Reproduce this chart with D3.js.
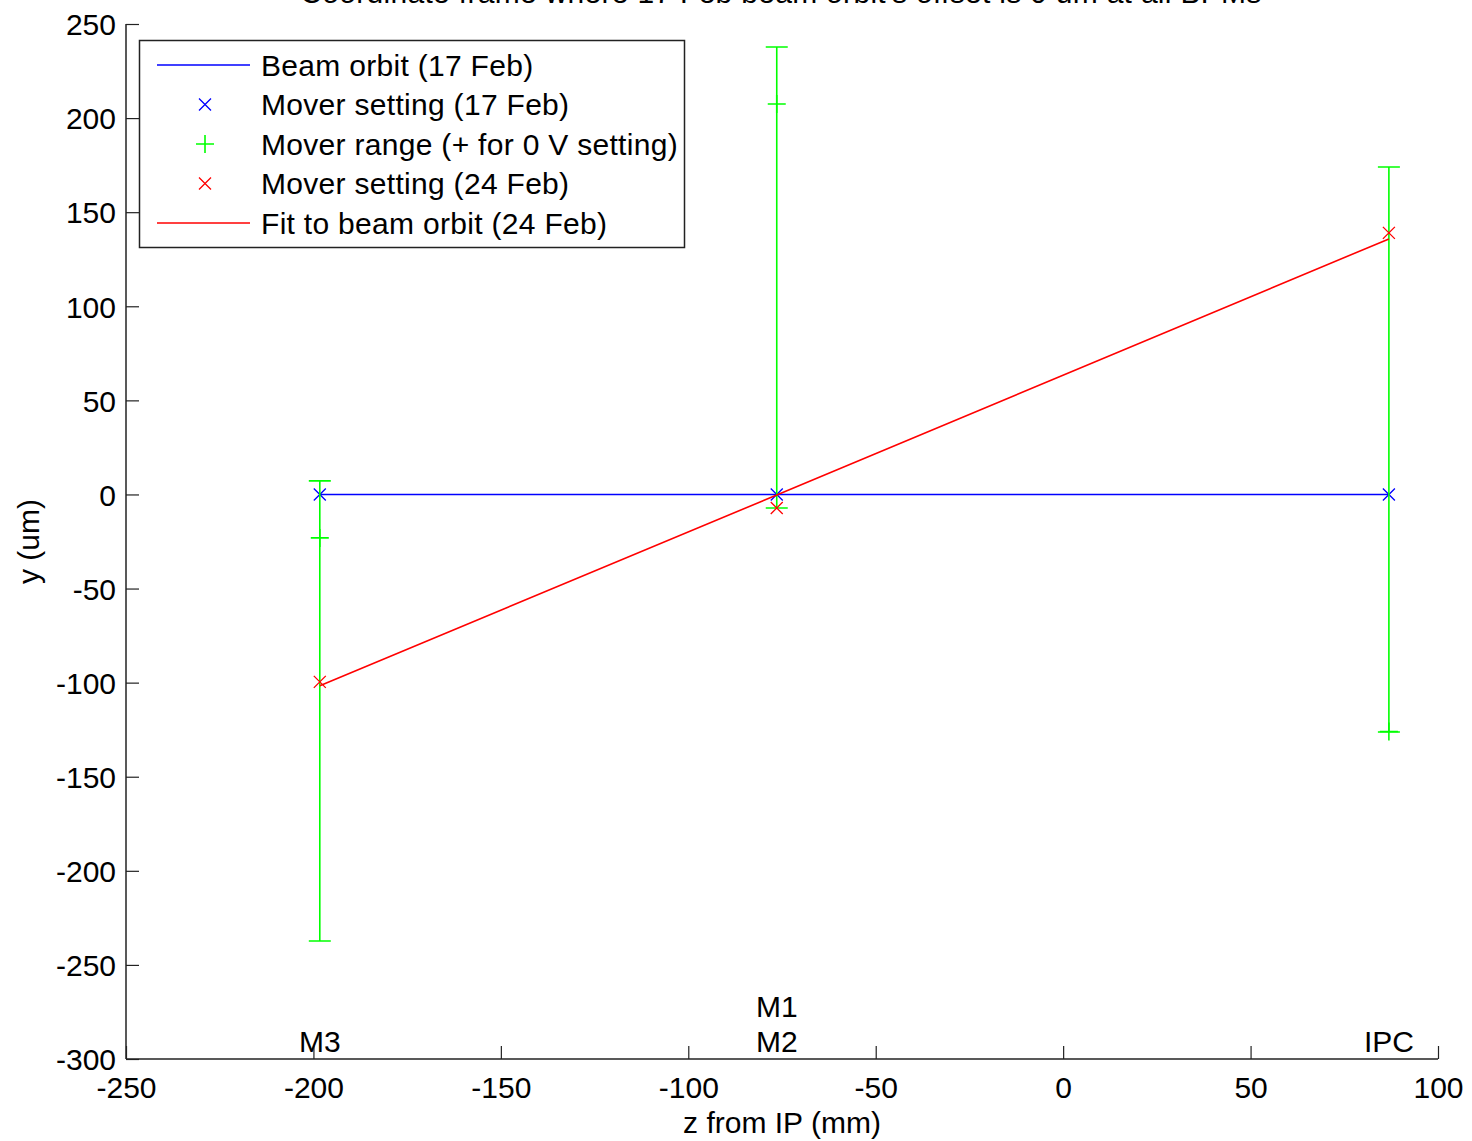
<!DOCTYPE html>
<html><head><meta charset="utf-8">
<script src="https://cdn.jsdelivr.net/npm/d3@7"></script>
<style>body{margin:0;background:#fff}svg{display:block}text{font-family:"Liberation Sans",Arial,sans-serif}</style>
</head><body>
<script>
// ---- data ----
const devices = ["M3", "M1\nM2", "IPC"];
const zPos = [-198.3, -76.4, 86.9];
const beamOrbit17 = [0, 0, 0];
const moverSetting17 = [0, 0, 0];
const rangeLow = [-237.3, -7.2, -126.2];
const rangeHigh = [7.2, 237.8, 174.0];
const zeroVSetting = [-23.1, 207.5, -126.0];
const moverSetting24 = [-99.6, -7.2, 139.0];
const fit24 = [-101.6, -0.3, 135.8];
const xTicks = [-250, -200, -150, -100, -50, 0, 50, 100];
const yTicks = [250, 200, 150, 100, 50, 0, -50, -100, -150, -200, -250, -300];
const legendLabels = ["Beam orbit (17 Feb)", "Mover setting (17 Feb)", "Mover range (+ for 0 V setting)", "Mover setting (24 Feb)", "Fit to beam orbit (24 Feb)"];
const titleText = "Coordinate frame where 17 Feb beam orbit's offset is 0 um at all BPMs";

const W = 1472, H = 1141;
const m = {left: 126, right: 1438, top: 24, bottom: 1059};
const svg = d3.select("body").append("svg").attr("width", W).attr("height", H);
const x = d3.scaleLinear().domain([-250, 100]).range([m.left, m.right]);
const y = d3.scaleLinear().domain([-300, 250]).range([m.bottom, m.top]);
const FS = 30;
const BLUE = "#0000ff", GREEN = "#00ff00", RED = "#ff0000";
const fmt = d => String(d);

// title (cut off at top, as in the reference)
svg.append("text").attr("x", 781).attr("y", 3).attr("text-anchor", "middle")
  .attr("font-size", FS).attr("letter-spacing", 0.3).text(titleText);

// axes
const yAxis = d3.axisLeft(y).tickValues(yTicks).tickFormat(fmt).tickSize(-13).tickPadding(10);
const gy = svg.append("g").attr("transform", `translate(${m.left},0)`).call(yAxis);
const xAxis = d3.axisBottom(x).tickValues(xTicks).tickFormat(fmt).tickSize(-13).tickPadding(12);
const gx = svg.append("g").attr("transform", `translate(0,${m.bottom})`).call(xAxis);
[gx, gy].forEach(g => {
  g.select(".domain").attr("stroke", "#222").attr("stroke-width", 1.5);
  g.selectAll(".tick line").attr("stroke", "#222").attr("stroke-width", 1.2);
  g.selectAll(".tick text").attr("font-size", FS).attr("fill", "#000")
   .attr("font-family", "Liberation Sans, Arial, sans-serif");
});
gy.selectAll(".tick text").attr("dy", "0.36em");
gx.selectAll(".tick text").attr("dy", "0.9em");
gy.select(".domain").attr("d", `M0,${m.top}V${m.bottom}`);
gx.select(".domain").attr("d", `M${m.left},0H${m.right}`);

// axis labels
svg.append("text").attr("x", x(-75)).attr("y", 1133).attr("text-anchor", "middle")
  .attr("font-size", FS).text("z from IP (mm)");
svg.append("text").attr("transform", `translate(39,${y(-25)}) rotate(-90)`)
  .attr("text-anchor", "middle").attr("font-size", FS).text("y (um)");

// device labels
devices.forEach((d, i) => {
  const lines = d.split("\n");
  lines.forEach((ln, j) => {
    svg.append("text").attr("x", x(zPos[i])).attr("y", 1052 - (lines.length - 1 - j) * 35)
      .attr("text-anchor", "middle").attr("font-size", FS).text(ln);
  });
});

const line = d3.line().x(d => x(d[0])).y(d => y(d[1]));
function xMark(g, cx, cy, s, col) {
  g.append("path").attr("d", `M${cx - s},${cy - s}L${cx + s},${cy + s}M${cx - s},${cy + s}L${cx + s},${cy - s}`)
    .attr("stroke", col).attr("stroke-width", 1.3).attr("fill", "none");
}
function plusMark(g, cx, cy, s, col) {
  g.append("path").attr("d", `M${cx - s},${cy}H${cx + s}M${cx},${cy - s}V${cy + s}`)
    .attr("stroke", col).attr("stroke-width", 1.6).attr("fill", "none");
}
const plot = svg.append("g");

// beam orbit 17 Feb
plot.append("path").attr("d", line(zPos.map((z, i) => [z, beamOrbit17[i]])))
  .attr("stroke", BLUE).attr("stroke-width", 1.6).attr("fill", "none");
// mover setting 17 Feb
zPos.forEach((z, i) => xMark(plot, x(z), y(moverSetting17[i]), 6, BLUE));
// mover range error bars
zPos.forEach((z, i) => {
  const cx = x(z);
  plot.append("path").attr("d", `M${cx},${y(rangeLow[i])}V${y(rangeHigh[i])}M${cx - 11},${y(rangeLow[i])}H${cx + 11}M${cx - 11},${y(rangeHigh[i])}H${cx + 11}`)
    .attr("stroke", GREEN).attr("stroke-width", 1.6).attr("fill", "none");
  plusMark(plot, cx, y(zeroVSetting[i]), 9, GREEN);
});
// mover setting 24 Feb
zPos.forEach((z, i) => xMark(plot, x(z), y(moverSetting24[i]), 6, RED));
// fit 24 Feb
plot.append("path").attr("d", line(zPos.map((z, i) => [z, fit24[i]])))
  .attr("stroke", RED).attr("stroke-width", 1.6).attr("fill", "none");

// legend
const lg = svg.append("g");
lg.append("rect").attr("x", 139.5).attr("y", 40.5).attr("width", 545).attr("height", 207)
  .attr("fill", "#fff").attr("stroke", "#222").attr("stroke-width", 1.5);
const rowY = [65, 104.5, 144, 183.5, 223];
legendLabels.forEach((t, i) => {
  const cy = rowY[i];
  if (i === 0 || i === 4) {
    lg.append("line").attr("x1", 157).attr("x2", 250).attr("y1", cy).attr("y2", cy)
      .attr("stroke", i === 0 ? BLUE : RED).attr("stroke-width", 1.6);
  } else if (i === 1 || i === 3) {
    xMark(lg, 205, cy, 6, i === 1 ? BLUE : RED);
  } else {
    plusMark(lg, 205, cy, 9, GREEN);
  }
  lg.append("text").attr("x", 261).attr("y", cy).attr("dy", "0.36em")
    .attr("font-size", FS).attr("letter-spacing", 0.3).text(t);
});
</script>
</body></html>
